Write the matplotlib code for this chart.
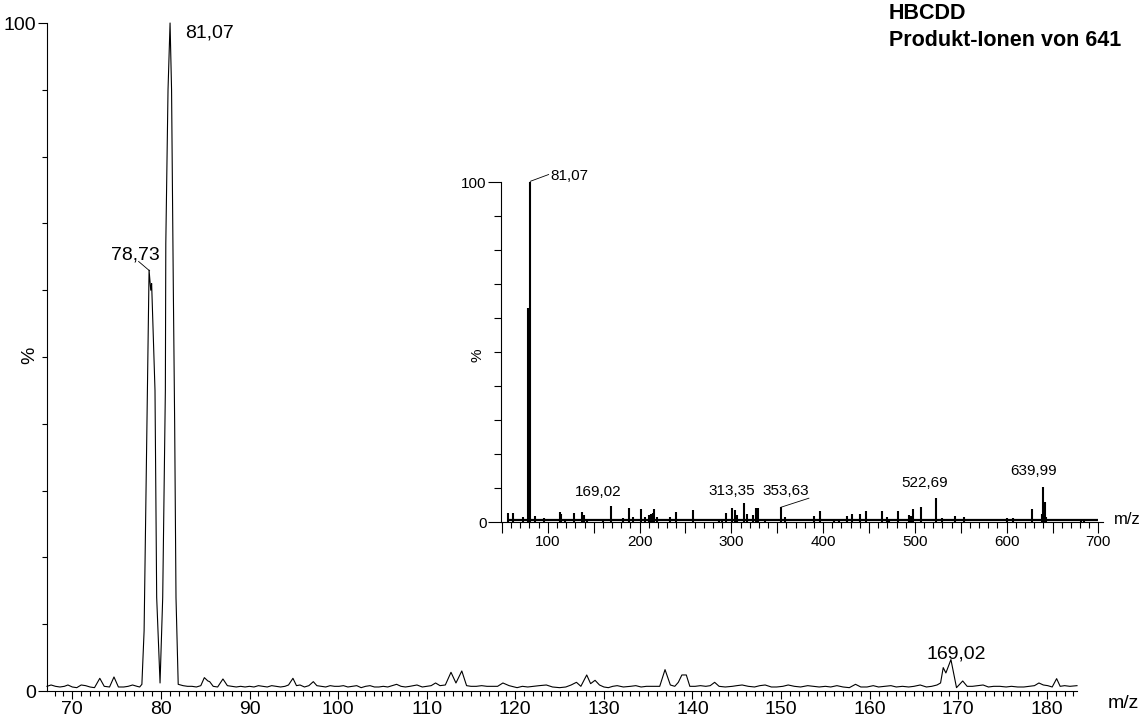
import matplotlib
matplotlib.use("Agg")
import matplotlib.pyplot as plt
from matplotlib.ticker import MultipleLocator, FixedLocator, FuncFormatter

plt.rcParams['font.family'] = ['Liberation Sans', 'DejaVu Sans']

# ---------------- data: main profile spectrum (m/z, relative intensity %) ----------------
main_mz = [
    67.14, 67.6, 68.1, 68.6, 69.1, 69.5, 70.0, 70.5, 71.0, 71.5,
    72.0, 72.5, 73.1, 73.6, 74.2, 74.7, 75.2, 75.8, 76.3, 76.8,
    77.3, 77.6, 77.85, 78.1, 78.66, 78.85, 78.95, 79.33, 79.52, 79.9,
    80.2, 80.5, 80.55, 80.8, 81.03, 81.2, 81.4, 81.55, 81.7, 81.95,
    82.5, 83.0, 83.5, 84.0, 84.5, 84.9, 85.3, 85.5, 85.9, 86.4,
    87.0, 87.5, 88.0, 88.5, 89.0, 89.5, 90.0, 90.5, 91.0, 91.5,
    92.0, 92.5, 93.0, 93.5, 94.0, 94.4, 94.9, 95.3, 95.7, 96.2,
    96.7, 97.2, 97.6, 98.1, 98.6, 99.1, 99.6, 100.1, 100.6, 101.1,
    101.6, 102.1, 102.6, 103.1, 103.6, 104.1, 104.6, 105.1, 105.6, 106.1,
    106.6, 107.1, 107.6, 108.1, 108.9, 109.5, 110.0, 110.5, 111.0, 111.5,
    112.1, 112.74, 113.3, 113.96, 114.5, 115.0, 115.6, 116.2, 116.8, 117.4,
    118.0, 118.6, 119.3, 120.2, 120.8, 121.4, 122.0, 122.7, 123.5, 124.2,
    125.0, 125.7, 126.3, 126.9, 127.4, 128.06, 128.5, 129.0, 129.5, 130.0,
    130.5, 131.0, 131.5, 132.2, 133.0, 133.6, 134.2, 134.8, 135.5, 136.3,
    136.9, 137.5, 138.0, 138.4, 138.8, 139.3, 139.7, 140.3, 140.9, 141.5,
    142.0, 142.5, 143.0, 143.7, 144.5, 145.0, 145.6, 146.3, 147.0, 147.6,
    148.2, 148.9, 149.5, 150.2, 150.8, 151.5, 152.2, 153.0, 153.6, 154.3,
    155.0, 155.6, 156.3, 157.0, 157.7, 158.4, 159.0, 159.7, 160.4, 161.0,
    161.7, 162.4, 163.0, 163.7, 164.4, 165.0, 165.7, 166.4, 167.0, 167.6,
    168.0, 168.3, 168.6, 169.17, 169.5, 169.8, 170.5, 171.0, 171.6, 172.2,
    172.8, 173.4, 174.0, 174.7, 175.4, 176.0, 176.7, 177.4, 178.0, 178.6,
    179.1, 179.6, 180.1, 180.6, 181.1, 181.5, 182.0, 182.6, 183.4,
]
main_int = [
    0.7, 0.9, 0.7, 0.6, 0.7, 0.9, 0.6, 0.5, 0.9, 0.8,
    0.6, 0.5, 1.9, 0.7, 0.6, 2.1, 0.6, 0.6, 0.7, 0.9,
    0.7, 0.6, 1.0, 9.0, 63.0, 60.0, 61.0, 45.0, 14.0, 1.2,
    14.0, 45.0, 67.0, 90.0, 100.0, 90.0, 60.0, 40.0, 14.0, 1.0,
    0.8, 0.7, 0.7, 0.6, 0.8, 2.0, 1.5, 1.4, 0.7, 0.6,
    1.8, 0.8, 0.7, 0.6, 0.7, 0.6, 0.7, 0.6, 0.8, 0.7,
    0.6, 0.8, 0.7, 0.6, 0.7, 0.9, 1.9, 0.8, 0.9, 0.6,
    0.8, 1.4, 0.8, 0.7, 0.6, 0.8, 0.7, 0.7, 0.8, 0.6,
    0.7, 0.8, 0.5, 0.7, 0.8, 0.6, 0.6, 0.7, 0.6, 0.8,
    1.0, 0.7, 0.6, 0.7, 0.9, 0.6, 0.7, 0.8, 1.2, 0.8,
    0.9, 2.8, 1.2, 3.0, 0.8, 0.7, 0.7, 0.8, 0.7, 0.7,
    0.7, 1.2, 0.8, 0.5, 0.7, 0.6, 0.7, 0.8, 0.9, 0.6,
    0.5, 0.6, 0.9, 1.3, 0.7, 2.4, 1.1, 1.6, 0.9, 0.6,
    0.5, 0.7, 0.8, 0.6, 0.7, 0.8, 0.6, 0.7, 0.7, 0.7,
    3.2, 0.9, 0.7, 1.3, 2.4, 2.4, 0.7, 0.7, 0.8, 0.7,
    0.8, 1.3, 0.7, 0.6, 0.7, 0.8, 0.9, 0.7, 0.6, 0.8,
    0.9, 0.6, 0.6, 0.7, 0.9, 0.7, 0.6, 0.8, 0.7, 0.6,
    0.7, 0.6, 0.8, 0.6, 0.5, 1.0, 0.6, 0.6, 0.8, 0.6,
    0.7, 0.8, 0.6, 0.7, 0.6, 0.7, 0.9, 0.6, 0.7, 0.9,
    1.2, 3.5, 2.7, 4.7, 2.5, 0.5, 1.5, 0.7, 0.7, 0.8,
    0.9, 0.6, 0.7, 0.7, 0.6, 0.7, 0.6, 0.6, 0.7, 0.8,
    1.2, 0.9, 0.8, 0.6, 1.85, 0.7, 0.8, 0.7, 0.8,
]

# ---------------- data: inset stick spectrum (full scan) ----------------
inset_mz = [
    56.6, 62.0, 72.9, 78.73, 81.07, 85.6, 95.4, 112.9, 114.3, 119.1,
    128.2, 137.3, 139.1, 142.7, 159.7, 169.02, 182.0, 188.2, 193.0, 201.7,
    206.4, 210.0, 212.6, 214.4, 216.2, 219.0, 233.6, 240.2, 258.0, 286.3,
    290.0, 294.4, 300.9, 303.8, 306.0, 313.35, 317.2, 323.4, 327.4, 328.8,
    336.3, 353.63, 359.0, 390.0, 396.2, 412.0, 417.0, 426.4, 431.1, 439.8,
    446.4, 463.8, 469.5, 472.0, 482.0, 493.6, 496.0, 498.4, 506.4, 522.69,
    530.0, 543.5, 553.6, 600.2, 606.4, 627.5, 638.5, 639.99, 641.5, 643.0,
    680.9, 684.0,
]
inset_int = [
    2.6, 2.6, 1.5, 62.8, 100.0, 1.8, 1.2, 2.9, 2.5, 1.0,
    2.6, 3.0, 2.0, 1.0, 0.8, 4.6, 1.3, 4.0, 1.6, 3.8,
    1.5, 2.0, 2.3, 2.7, 3.9, 1.5, 1.5, 3.0, 3.4, 0.8,
    1.0, 2.6, 4.2, 3.4, 2.0, 5.6, 2.5, 2.0, 4.2, 4.2,
    0.8, 4.3, 1.5, 1.8, 3.3, 0.8, 0.6, 1.7, 2.4, 2.4,
    3.2, 3.2, 1.4, 1.0, 3.2, 2.0, 1.8, 3.8, 4.5, 7.0,
    1.2, 1.9, 1.5, 1.2, 1.2, 3.7, 2.5, 10.4, 6.0, 1.5,
    0.8, 0.7,
]
inset_noise_level = 0.5
inset_noise_range = [55.0, 700.0]

# ---------------- labels ----------------
title_lines = ["HBCDD", "Produkt-Ionen von 641"]
main_peak_labels = ["81,07", "78,73", "169,02"]
inset_peak_labels = ["81,07", "169,02", "313,35", "353,63", "522,69", "639,99"]
xlabel_text = "m/z"
ylabel_text = "%"

# ---------------- figure ----------------
W, H = 1145, 720
fig = plt.figure(figsize=(W / 100, H / 100), dpi=100)


def fx(px):
    return px / W


def fy(py):
    return 1 - py / H


LW = 0.8
ax = fig.add_axes([fx(47), fy(691), fx(1077) - fx(47), fy(23) - fy(691)])
ax.plot(main_mz, main_int, color='black', lw=0.8, clip_on=False)
ax.set_xlim(67.14, 183.4)
ax.set_ylim(0, 100)
for s in ['top', 'right']:
    ax.spines[s].set_visible(False)
for s in ['left', 'bottom']:
    ax.spines[s].set_linewidth(LW)
ax.xaxis.set_major_locator(MultipleLocator(10))
ax.xaxis.set_minor_locator(MultipleLocator(1))
ax.yaxis.set_major_locator(FixedLocator([0, 100]))
ax.yaxis.set_minor_locator(MultipleLocator(10))
ax.tick_params(axis='x', which='major', length=5.8, width=LW, labelsize=14, pad=1.5)
ax.tick_params(axis='x', which='minor', length=3.6, width=LW)
ax.tick_params(axis='y', which='major', length=6.5, width=LW, labelsize=14, pad=1)
ax.tick_params(axis='y', which='minor', length=3.6, width=LW)

ax.text(82.72, 98.5, main_peak_labels[0], fontsize=14, ha='left', va='center')
ax.text(77.09, 65.3, main_peak_labels[1], fontsize=14, ha='center', va='center')
ax.plot([77.48, 78.72], [64.3, 62.9], color='black', lw=0.6)
ax.text(169.82, 5.6, main_peak_labels[2], fontsize=14, ha='center', va='center')

# inset
axi = fig.add_axes([fx(501), fy(522), fx(1103) - fx(501), fy(182) - fy(522)])
axi.set_facecolor('none')
axi.vlines(inset_mz, 0, inset_int, color='black', lw=1.5)
axi.hlines(inset_noise_level, inset_noise_range[0], inset_noise_range[1], color='black', lw=1.6)
axi.set_xlim(49, 705)
axi.set_ylim(0, 100)
for s in ['top', 'right']:
    axi.spines[s].set_visible(False)
for s in ['left', 'bottom']:
    axi.spines[s].set_linewidth(LW)
axi.xaxis.set_major_locator(MultipleLocator(50))
axi.xaxis.set_minor_locator(MultipleLocator(10))
axi.xaxis.set_major_formatter(FuncFormatter(lambda v, p: f"{int(round(v))}" if round(v) % 100 == 0 else ""))
axi.yaxis.set_major_locator(FixedLocator([0, 100]))
axi.yaxis.set_minor_locator(MultipleLocator(10))
axi.tick_params(axis='x', which='major', length=8, width=LW, labelsize=11, pad=1.5)
axi.tick_params(axis='x', which='minor', length=4.3, width=LW)
axi.tick_params(axis='y', which='major', length=9.4, width=LW, labelsize=11, pad=1)
axi.tick_params(axis='y', which='minor', length=5, width=LW)

axi.text(102.7, 101.9, inset_peak_labels[0], fontsize=11, ha='left', va='center', clip_on=False)
axi.plot([80.9, 100.9], [100.2, 102.2], color='black', lw=0.6, clip_on=False)
axi.text(154.8, 8.9, inset_peak_labels[1], fontsize=11, ha='center', va='center')
axi.text(300.5, 9.0, inset_peak_labels[2], fontsize=11, ha='center', va='center')
axi.text(358.9, 9.0, inset_peak_labels[3], fontsize=11, ha='center', va='center')
axi.plot([353.63, 384.5], [4.3, 7.0], color='black', lw=0.6)
axi.text(510.9, 11.5, inset_peak_labels[4], fontsize=11, ha='center', va='center')
axi.text(629.1, 14.9, inset_peak_labels[5], fontsize=11, ha='center', va='center')

# axis texts
fig.text(fx(30), fy(355), ylabel_text, rotation=90, fontsize=14, ha='center', va='center')
fig.text(fx(1123), fy(704), xlabel_text, fontsize=14, ha='center', va='center')
fig.text(fx(477), fy(355), ylabel_text, rotation=90, fontsize=11, ha='center', va='center')
fig.text(fx(1127), fy(519), xlabel_text, fontsize=12, ha='center', va='center')

# title
fig.text(fx(889), fy(19), title_lines[0], fontsize=15.5, fontweight='bold', ha='left', va='baseline')
fig.text(fx(889), fy(46.5), title_lines[1], fontsize=15.5, fontweight='bold', ha='left', va='baseline')

fig.savefig('out.png', dpi=100)
